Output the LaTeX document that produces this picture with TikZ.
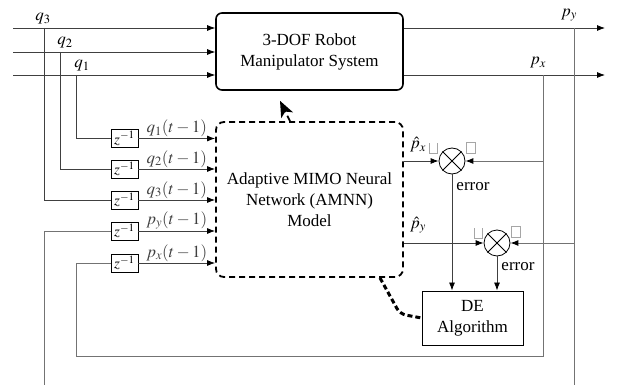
\documentclass[tikz,border=0pt]{standalone}
\usepackage{mathptmx}
\usepackage[no-math]{fontspec}
\setmainfont{Liberation Serif}
\usetikzlibrary{arrows.meta,positioning}
\tikzset{
  delay/.style={draw, line width=0.8pt, minimum width=27pt, minimum height=18pt, inner sep=0pt, font=\fontsize{15}{15}\selectfont},
  sumc/.style={draw, circle, line width=0.8pt, minimum size=26pt, inner sep=0pt},
  ln/.style={line width=0.8pt, black!75},
  fb/.style={line width=0.9pt, black!55},
  gbox/.style={draw=black!35, line width=0.6pt},
  dsh/.style={line width=1.8pt, dash pattern=on 6pt off 4pt},
  lbl/.style={inner sep=0pt},
}
\begin{document}
\begin{tikzpicture}[x=1pt, y=-1pt, >={Latex[length=8pt,width=6pt,color=black]}, font=\fontsize{17}{21}\selectfont]
\useasboundingbox (0,0) rectangle (618,385);
% blocks
\node[draw, line width=1.6pt, rounded corners=6pt, minimum width=187pt, minimum height=77pt, align=center] (robot) at (309.5,51.5) {3-DOF Robot\\Manipulator System};
\node[draw, dsh, rounded corners=8pt, minimum width=187pt, minimum height=155pt, align=center] (ann) at (309.5,199.5) {Adaptive MIMO Neural\\Network (AMNN)\\Model};
\node[draw, line width=0.9pt, minimum width=101pt, minimum height=54pt, align=center] (de) at (472.5,318) {DE\\Algorithm};
\node[sumc] (s1) at (452,161) {};
\node[sumc] (s2) at (497,243) {};
\draw[line width=0.8pt] (s1.north west) -- (s1.south east) (s1.north east) -- (s1.south west);
\draw[line width=0.8pt] (s2.north west) -- (s2.south east) (s2.north east) -- (s2.south west);
% delays
\node[delay] (d1) at (124.5,138.5) {$z^{-1}$};
\node[delay] (d2) at (124.5,169) {$z^{-1}$};
\node[delay] (d3) at (124.5,200) {$z^{-1}$};
\node[delay] (d4) at (124.5,231) {$z^{-1}$};
\node[delay] (d5) at (124.5,263) {$z^{-1}$};
% inputs
\coordinate (in3) at (13,28);
\coordinate (in2) at (13,52);
\coordinate (in1) at (13,75);
\draw[ln,->] (in3) -- (in3 -| robot.west);
\draw[ln,->] (in2) -- (in2 -| robot.west);
\draw[ln,->] (in1) -- (in1 -| robot.west);
\node at (43,19) {$q_3$};
\node at (65,43) {$q_2$};
\node at (82,66) {$q_1$};
\coordinate (b3) at (44,28);
\coordinate (b2) at (60,52);
\coordinate (b1) at (76,75);
\draw[ln] (b1) |- (d1.west);
\draw[ln] (b2) |- (d2.west);
\draw[ln] (b3) |- (d3.west);
% outputs
\coordinate (py) at (605,28);
\coordinate (px) at (605,75);
\draw[ln,->] (py -| robot.east) -- (py);
\draw[ln,->] (px -| robot.east) -- (px);
\node at (569,15) {$p_y$};
\node at (538,63) {$p_x$};
% delayed signals into model
\draw[ln,->] (d1.east) -- (d1 -| ann.west) node[midway, above=-2pt] {$q_1(t-1)$};
\draw[ln,->] (d2.east) -- (d2 -| ann.west) node[midway, above=-2pt] {$q_2(t-1)$};
\draw[ln,->] (d3.east) -- (d3 -| ann.west) node[midway, above=-2pt] {$q_3(t-1)$};
\draw[ln,->] (d4.east) -- (d4 -| ann.west) node[midway, above=-2pt] {$p_y(t-1)$};
\draw[ln,->] (d5.east) -- (d5 -| ann.west) node[midway, above=-2pt] {$p_x(t-1)$};
% feedback
\coordinate (bpy) at (574,28);
\coordinate (bpx) at (543,75);
\coordinate (fbx) at (76,356);
\coordinate (fby) at (44,385);
\draw[fb] (bpy) -- (bpy |- fby);
\draw[fb,->] (bpy |- s2) -- (s2.east);
\draw[fb,->] (bpx |- s1) -- (s1.east);
\draw[fb] (bpx) |- (fbx) |- (d5.west);
\draw[fb] (fby) |- (d4.west);
% comparison
\draw[ln,->] (ann.east |- s1) -- (s1.west);
\draw[ln,->] (ann.east |- s2) -- (s2.west);
\node[lbl] at (418,145) {$\hat p_x$};
\node[lbl] at (418,225) {$\hat p_y$};
\draw[ln,->] (s1.south) -- (s1.south |- de.north);
\draw[ln,->] (s2.south) -- (s2.south |- de.north);
\node at (473,187) {error};
\node at (518,267) {error};
\draw[gbox] (429,143) -- (429,153) -- (437,153) -- (437,143);
\draw[gbox] (466,142) rectangle (475,153);
\draw[gbox] (474,228) -- (474,238) -- (482,238) -- (482,228);
\draw[gbox] (511,226) rectangle (520,237);
% model links
\draw[dsh, -{Stealth[length=16pt,width=13pt,inset=4pt]}] ([xshift=-19.5pt]ann.north) -- ([xshift=-29.5pt,yshift=-10pt]robot.south);
\draw[line width=3pt, dash pattern=on 5pt off 3pt, rounded corners=6pt] ([xshift=70.5pt]ann.south) -- (400,314) -- (de.west);
\end{tikzpicture}
\end{document}
